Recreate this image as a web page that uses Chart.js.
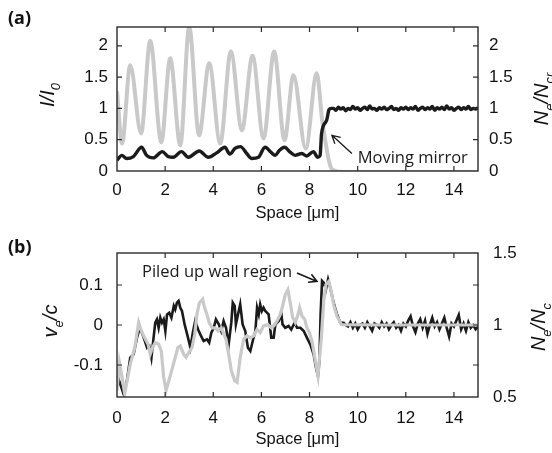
<!DOCTYPE html>
<html><head><meta charset="utf-8">
<script src="https://cdn.jsdelivr.net/npm/chart.js@4/dist/chart.umd.min.js"></script>
<style>
html,body{margin:0;padding:0;background:#fff;width:552px;height:453px;overflow:hidden}
.wrap{position:absolute;left:0;width:552px}
#wa{top:0;height:226px}
#wb{top:226px;height:227px}
canvas{display:block}
</style></head><body>
<div class="wrap" id="wa"><canvas id="ca" width="552" height="226"></canvas></div>
<div class="wrap" id="wb"><canvas id="cb" width="552" height="227"></canvas></div>
<script>
// ---------- Panel (a) data ----------
const xTicks = [0, 2, 4, 6, 8, 10, 12, 14];
const aIntensityX = [0, 0.21, 0.55, 1.0, 1.38, 1.84, 2.21, 2.63, 3.0, 3.41, 3.83, 4.29, 4.73, 5.19, 5.63, 6.09, 6.53, 6.96, 7.33, 7.84, 8.30, 8.52, 8.70, 8.82, 8.95, 9.4, 15];
const aIntensityY = [1.27, 0.44, 1.69, 0.60, 2.08, 0.46, 1.80, 0.41, 2.30, 0.57, 1.72, 0.44, 1.91, 0.65, 1.84, 0.52, 1.91, 0.49, 1.53, 0.36, 1.56, 0.83, 0.38, 0.14, 0.02, -0.015, -0.015];
const aDensityX = [0, 0.2, 0.4, 0.68, 1.02, 1.23, 1.51, 1.88, 2.13, 2.34, 2.68, 2.96, 3.42, 3.79, 4.14, 4.48, 4.69, 4.9, 5.13, 5.39, 5.6, 5.88, 6.15, 6.4, 6.57, 6.75, 6.96, 7.2, 7.4, 7.68, 7.88, 8.16, 8.34, 8.44, 8.5, 8.71, 8.81,
  8.9, 9.0, 9.1, 9.2, 9.3, 9.4, 9.5, 9.6, 9.7, 9.8, 9.9, 10.0, 10.1, 10.2, 10.3, 10.4, 10.5, 10.6, 10.7, 10.8, 10.9, 11.0, 11.1, 11.2, 11.3, 11.4, 11.5, 11.6, 11.7, 11.8, 11.9,
  12.0, 12.1, 12.2, 12.3, 12.4, 12.5, 12.6, 12.7, 12.8, 12.9, 13.0, 13.1, 13.2, 13.3, 13.4, 13.5, 13.6, 13.7, 13.8, 13.9, 14.0, 14.1, 14.2, 14.3, 14.4, 14.5, 14.6, 14.7, 14.8, 14.9, 15.0];
const aDensityY = [0.17, 0.25, 0.20, 0.23, 0.38, 0.25, 0.21, 0.31, 0.23, 0.22, 0.31, 0.22, 0.32, 0.22, 0.29, 0.38, 0.27, 0.36, 0.39, 0.28, 0.20, 0.22, 0.38, 0.30, 0.25, 0.33, 0.38, 0.30, 0.25, 0.28, 0.24, 0.31, 0.22, 0.25, 0.60, 0.81, 0.98,
  1.00, 1.00, 0.97, 1.02, 0.99, 1.01, 0.96, 1.00, 0.98, 1.03, 0.99, 1.01, 0.97, 1.00, 1.02, 0.98, 1.04, 0.99, 1.00, 0.97, 1.01, 0.99, 1.02, 0.98, 1.00, 1.03, 0.98, 1.00, 0.97, 1.01, 0.99,
  1.02, 0.98, 1.01, 0.99, 1.03, 0.97, 1.00, 1.02, 0.98, 1.01, 0.99, 1.03, 0.97, 1.01, 0.99, 1.02, 0.98, 1.04, 0.99, 1.01, 0.97, 1.00, 1.02, 0.98, 1.01, 0.99, 1.03, 0.98, 1.00, 0.99, 1.01];

// ---------- Panel (b) data ----------
const bVelocityX = [0, 0.10, 0.21, 0.32, 0.55, 0.74, 0.90, 1.01, 1.15, 1.29, 1.38, 1.48, 1.59, 1.73, 1.84, 1.94, 2.04, 2.29, 2.42, 2.53, 2.63, 2.77, 2.87, 2.98, 3.12, 3.23, 3.32, 3.42, 3.56, 3.64, 3.74, 3.83, 3.95, 4.08, 4.20, 4.33, 4.53, 4.64, 4.75, 4.89, 4.99,
  5.12, 5.26, 5.40, 5.54, 5.68, 5.82, 5.95, 6.09, 6.27, 6.41, 6.51, 6.65, 6.78, 6.88, 6.99, 7.10, 7.20, 7.30, 7.41, 7.52, 7.59, 7.69, 7.80, 7.89, 7.99, 8.10, 8.24, 8.35, 8.49, 8.59, 8.68, 8.80, 8.90, 9.00, 9.14, 9.32, 11, 13, 15];
const bVelocityY = [-0.164, -0.094, -0.131, -0.172, -0.098, -0.056, 0.006, -0.015, -0.032, -0.048, -0.073, -0.056, -0.044, -0.048, -0.065, -0.131, -0.164, -0.110, -0.081, -0.056, -0.052, -0.073, -0.081, -0.069, -0.056, -0.023, 0.026, 0.055, 0.064, 0.043, 0.026, 0.006, -0.007, -0.007, -0.015, -0.007, -0.036, -0.073, -0.114, -0.139, -0.143,
  -0.081, -0.036, -0.027, -0.032, -0.027, -0.011, -0.019, -0.002, 0.001, -0.007, -0.002, 0.010, 0.026, 0.047, 0.076, 0.088, 0.055, 0.018, 0.006, 0.026, 0.043, 0.022, 0.014, -0.007, -0.019, -0.040, -0.089, -0.127, -0.032, 0.060, 0.101, 0.109, 0.084, 0.051, 0.022, 0.001, 0.0, 0.0, 0.0];
const bDensityX = [0, 0.14, 0.28, 0.42, 0.55, 0.69, 0.83, 0.93, 1.01, 1.11, 1.25, 1.34, 1.43, 1.52, 1.59, 1.66, 1.73, 1.80, 1.87, 1.94, 2.01, 2.08, 2.17, 2.26, 2.36, 2.42, 2.49, 2.56, 2.63, 2.70, 2.81, 2.95, 3.05, 3.15, 3.25, 3.37, 3.46, 3.60, 3.74, 3.83, 3.92, 4.02, 4.11, 4.23, 4.33, 4.43, 4.53, 4.64, 4.75, 4.81, 4.89, 4.94,
  5.03, 5.12, 5.22, 5.33, 5.44, 5.54, 5.64, 5.75, 5.82, 5.89, 5.95, 6.02, 6.09, 6.16, 6.30, 6.41, 6.51, 6.58, 6.72, 6.83, 6.88, 6.99, 7.13, 7.24, 7.38, 7.48, 7.62, 7.76, 7.89, 8.03, 8.17, 8.27, 8.35, 8.41, 8.46, 8.52, 8.59, 8.68, 8.77, 8.86, 9.00, 9.14, 9.28, 9.42,
  9.5, 9.6, 9.7, 9.8, 9.9, 10.0, 10.1, 10.2, 10.3, 10.4, 10.5, 10.6, 10.7, 10.8, 10.9, 11.0, 11.1, 11.2, 11.3, 11.4, 11.5, 11.6, 11.7, 11.8, 11.9, 12.0, 12.1, 12.2, 12.3, 12.4, 12.5, 12.6, 12.7, 12.8, 12.9,
  13.0, 13.1, 13.2, 13.3, 13.4, 13.5, 13.6, 13.7, 13.8, 13.9, 14.0, 14.1, 14.2, 14.3, 14.4, 14.5, 14.6, 14.7, 14.8, 14.9, 15.0];
const bDensityY = [0.657, 0.587, 0.518, 0.622, 0.773, 0.796, 0.912, 0.969, 0.958, 0.912, 0.842, 0.854, 0.773, 0.912, 1.016, 1.039, 0.981, 1.051, 1.016, 1.039, 0.958, 1.074, 1.085, 1.051, 1.132, 1.108, 1.155, 1.167, 1.120, 1.097, 1.004, 0.912, 0.842, 0.947, 1.028, 0.969, 0.935, 0.889, 0.900, 0.877, 0.947, 0.981, 1.039, 1.004, 0.958, 1.028, 0.981, 0.865, 1.018, 1.155, 1.132, 1.004,
  1.074, 1.143, 1.004, 0.958, 0.842, 0.819, 0.889, 0.958, 1.120, 1.074, 1.143, 1.097, 1.120, 1.097, 1.074, 0.912, 0.912, 1.004, 1.028, 1.074, 1.004, 0.981, 0.993, 0.969, 1.016, 0.981, 0.981, 0.958, 0.912, 0.865, 0.796, 0.703, 0.646, 0.750, 1.074, 1.306, 1.294, 1.247, 1.317, 1.259, 1.155, 1.074, 1.016, 1.016,
  1.00, 0.99, 1.02, 0.98, 1.01, 0.97, 1.00, 1.01, 0.98, 1.02, 0.99, 0.96, 1.01, 1.00, 0.98, 1.02, 0.99, 1.01, 0.97, 1.00, 1.02, 0.98, 1.00, 0.96, 1.01, 0.99, 1.03, 1.06, 0.99, 0.95, 1.01, 1.04, 0.98, 1.03, 0.94,
  1.00, 1.05, 0.99, 1.02, 0.97, 1.01, 1.05, 0.98, 0.92, 1.01, 0.99, 1.03, 1.07, 0.97, 1.01, 0.96, 1.02, 0.98, 1.00, 0.97, 0.99];

// ---------- annotations (data units of the left axis) ----------
const aNote = { text: 'Moving mirror', x: 10.0, y: 0.13, arrowFrom: [9.76, 0.28], arrowTo: [8.93, 0.57] };
const bNote = { text: 'Piled up wall region', x: 1.04, y: 0.119, arrowFrom: [7.48, 0.130], arrowTo: [8.31, 0.109] };

const GRAY = '#c9c9c9', BLACK = '#1b1b1b', AXIS = '#2b2b2b';
const TICKFONT = { family: "'Liberation Sans', Arial, sans-serif", size: 17 };
const pts = (xs, ys) => xs.map((x, i) => ({ x: x, y: ys[i] }));
const fmt = v => String(Number(v.toFixed(3)));

function drawRotSub(ctx, parts, baseX, cy, size) {
  const subSize = Math.round(size * 0.65);
  let total = 0;
  parts.forEach(p => { ctx.font = 'italic ' + (p[1] ? subSize : size) + "px 'Liberation Sans', Arial, sans-serif"; total += ctx.measureText(p[0]).width; });
  ctx.save();
  ctx.translate(baseX, cy);
  ctx.rotate(-Math.PI / 2);
  ctx.textBaseline = 'alphabetic';
  ctx.textAlign = 'left';
  let x = -total / 2;
  parts.forEach(p => {
    ctx.font = 'italic ' + (p[1] ? subSize : size) + "px 'Liberation Sans', Arial, sans-serif";
    ctx.fillText(p[0], x, p[1] ? size * 0.28 : 0);
    x += ctx.measureText(p[0]).width;
  });
  ctx.restore();
}

function arrow(ctx, x1, y1, x2, y2, size) {
  const ang = Math.atan2(y2 - y1, x2 - x1);
  ctx.beginPath();
  ctx.moveTo(x1, y1); ctx.lineTo(x2, y2);
  ctx.moveTo(x2 - size * Math.cos(ang - 0.5), y2 - size * Math.sin(ang - 0.5));
  ctx.lineTo(x2, y2);
  ctx.lineTo(x2 - size * Math.cos(ang + 0.5), y2 - size * Math.sin(ang + 0.5));
  ctx.stroke();
}

const framePlugin = {
  id: 'frame',
  afterDatasetsDraw(chart) {
    const { ctx, chartArea: a, scales } = chart;
    ctx.save();
    ctx.strokeStyle = AXIS; ctx.lineWidth = 1.4;
    ctx.strokeRect(a.left, a.top, a.right - a.left, a.bottom - a.top);
    const L = 5;
    ctx.lineWidth = 1.2;
    ctx.beginPath();
    scales.x.ticks.forEach(t => {
      const px = scales.x.getPixelForValue(t.value);
      if (px <= a.left + 1 || px >= a.right - 1) return;
      ctx.moveTo(px, a.bottom); ctx.lineTo(px, a.bottom - L);
      ctx.moveTo(px, a.top); ctx.lineTo(px, a.top + L);
    });
    scales.yL.ticks.forEach(t => {
      const py = scales.yL.getPixelForValue(t.value);
      if (py >= a.bottom - 1 || py <= a.top + 1) return;
      ctx.moveTo(a.left, py); ctx.lineTo(a.left + L, py);
      ctx.moveTo(a.right, py); ctx.lineTo(a.right - L, py);
    });
    ctx.stroke();
    ctx.restore();
  },
  afterDraw(chart, args, o) {
    const { ctx, chartArea: a, scales } = chart;
    ctx.save();
    ctx.fillStyle = '#111';
    ctx.font = "bold 18px 'Open Sans', sans-serif";
    ctx.textAlign = 'left'; ctx.textBaseline = 'alphabetic';
    ctx.fillText(o.letter, 8, o.letterY);
    ctx.font = "16.5px 'Liberation Sans', Arial, sans-serif";
    ctx.textAlign = 'center';
    ctx.fillText('Space [\u03bcm]', (a.left + a.right) / 2, 218);
    drawRotSub(ctx, o.leftTitle, o.leftBase, (a.top + a.bottom) / 2 - 4, 20);
    drawRotSub(ctx, o.rightTitle, o.rightBase, (a.top + a.bottom) / 2 - o.rightShift, 20);
    const n = o.note;
    const X = scales.x, Y = scales.yL;
    ctx.font = "16.5px 'Open Sans', sans-serif";
    ctx.textAlign = 'left';
    ctx.fillStyle = '#1a1a1a';
    ctx.fillText(n.text, X.getPixelForValue(n.x), Y.getPixelForValue(n.y));
    ctx.strokeStyle = '#1a1a1a'; ctx.lineWidth = o.arrowW;
    arrow(ctx, X.getPixelForValue(n.arrowFrom[0]), Y.getPixelForValue(n.arrowFrom[1]),
               X.getPixelForValue(n.arrowTo[0]), Y.getPixelForValue(n.arrowTo[1]), 9);
    ctx.restore();
  }
};

function xScale(pad, h) {
  return {
    type: 'linear', min: 0, max: 15,
    afterBuildTicks: s => { s.ticks = xTicks.map(v => ({ value: v })); },
    ticks: { font: TICKFONT, color: '#111', padding: pad, maxRotation: 0, callback: fmt },
    grid: { display: false, drawTicks: false }, border: { display: false },
    afterFit: s => { s.height = h; }
  };
}
function yScale(pos, min, max, step, width, pad) {
  return {
    type: 'linear', position: pos, min: min, max: max,
    ticks: { stepSize: step, includeBounds: false, font: TICKFONT, color: '#111', padding: pad, callback: fmt },
    grid: { display: false, drawTicks: false }, border: { display: false },
    afterFit: s => { s.width = width; }
  };
}

new Chart(document.getElementById('ca'), {
  type: 'line',
  data: { datasets: [
    { label: 'Ne/Ncr', data: pts(aDensityX, aDensityY), yAxisID: 'yR', borderColor: BLACK, borderWidth: 3.4, pointRadius: 0, cubicInterpolationMode: 'monotone' },
    { label: 'I/I0', data: pts(aIntensityX, aIntensityY), yAxisID: 'yL', borderColor: GRAY, borderWidth: 4, pointRadius: 0, cubicInterpolationMode: 'monotone' }
  ] },
  options: {
    responsive: false, animation: false, devicePixelRatio: 1,
    layout: { padding: { top: 27, left: 0, right: 0, bottom: 0 } },
    plugins: { legend: { display: false }, tooltip: { enabled: false },
      frame: { letter: '(a)', letterY: 24, leftTitle: [['I/I', 0], ['0', 1]], leftBase: 54, rightTitle: [['N', 0], ['e', 1], ['/N', 0], ['cr', 1]], rightBase: 548, rightShift: 0, note: aNote, arrowW: 1.3 } },
    scales: {
      x: xScale(9, 55),
      yL: yScale('left', 0, 2.3, 0.5, 117, 9),
      yR: yScale('right', 0, 2.3, 0.5, 74, 11)
    }
  },
  plugins: [framePlugin]
});

new Chart(document.getElementById('cb'), {
  type: 'line',
  data: { datasets: [
    { label: 've/c', data: pts(bVelocityX, bVelocityY), yAxisID: 'yL', borderColor: GRAY, borderWidth: 3.2, pointRadius: 0, tension: 0 },
    { label: 'Ne/Nc', data: pts(bDensityX, bDensityY), yAxisID: 'yR', borderColor: BLACK, borderWidth: 2.6, pointRadius: 0, tension: 0 }
  ] },
  options: {
    responsive: false, animation: false, devicePixelRatio: 1,
    layout: { padding: { top: 27, left: 0, right: 0, bottom: 0 } },
    plugins: { legend: { display: false }, tooltip: { enabled: false },
      frame: { letter: '(b)', letterY: 27, leftTitle: [['v', 0], ['e', 1], ['/c', 0]], leftBase: 57, rightTitle: [['N', 0], ['e', 1], ['/N', 0], ['c', 1]], rightBase: 545, rightShift: -2, note: bNote, arrowW: 1.6 } },
    scales: {
      x: xScale(11, 56),
      yL: yScale('left', -0.18, 0.18, 0.1, 117, 14),
      yR: yScale('right', 0.5, 1.5, 0.5, 74, 15)
    }
  },
  plugins: [framePlugin]
});
</script>
</body></html>
